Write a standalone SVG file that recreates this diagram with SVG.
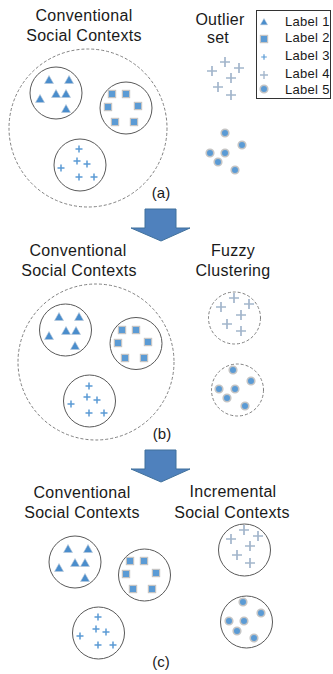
<svg xmlns="http://www.w3.org/2000/svg" xmlns:xlink="http://www.w3.org/1999/xlink" width="333" height="674" viewBox="0 0 333 674">
<style>
text{font-family:"Liberation Sans",Arial,sans-serif;fill:#1a1a1a}
.t{font-size:16px;text-anchor:middle;letter-spacing:0.3px}
.lg{font-size:13px;letter-spacing:0.3px}
.sub{font-size:15px;text-anchor:middle}
.solid{fill:none;stroke:#595959;stroke-width:1}
.dash{fill:none;stroke:#808080;stroke-width:1;stroke-dasharray:3 2}
.arrow{fill:#4F81BD;stroke:#41719C;stroke-width:1}
</style>
<defs>
<polygon id="tri" points="0,-4.5 4.5,3.5 -4.5,3.5" fill="#4a8dcc" stroke="#b8c8d8" stroke-width="0.6"/>
<rect id="sq" x="-3.6" y="-3.6" width="7.2" height="7.2" fill="#5b9bd5" stroke="#c4c4c4" stroke-width="1.2"/>
<circle id="dot" r="3.8" fill="#5b9bd5" stroke="#c4c4c4" stroke-width="1.6"/>
<path id="p3" d="M-3.5,0H3.5M0,-3.5V3.5" stroke="#5b9bd5" stroke-width="1.5" fill="none"/>
<path id="p4" d="M-5,0H5M0,-5V5" stroke="#a3b6cc" stroke-width="1.7" fill="none"/>
</defs>

<g id="connectors">
<path class="arrow" d="M145,209H176V228H190L161,241L131,228H145Z"/>
<path class="arrow" d="M145,450H176V469H190L161,482L131,469H145Z"/>
</g>

<!-- (a) -->
<g id="a-title"><text class="t" x="84" y="21">Conventional</text><text class="t" x="84" y="41">Social Contexts</text></g>
<g id="a-outlier-title"><text class="t" x="220" y="25">Outlier</text><text class="t" x="218" y="43">set</text></g>
<g id="a-social"><circle class="dash" cx="88" cy="128" r="79"/></g>
<g id="a-c1"><circle class="solid" cx="56" cy="93" r="26"/>
<use href="#tri" x="49" y="80"/><use href="#tri" x="69" y="80"/><use href="#tri" x="56" y="94"/><use href="#tri" x="66" y="94"/><use href="#tri" x="40" y="99"/><use href="#tri" x="66" y="109"/></g>
<g id="a-c2"><circle class="solid" cx="126" cy="108" r="26"/>
<use href="#sq" x="112" y="94"/><use href="#sq" x="126" y="94"/><use href="#sq" x="108" y="107"/><use href="#sq" x="138" y="106"/><use href="#sq" x="115" y="122"/><use href="#sq" x="134" y="122"/></g>
<g id="a-c3"><circle class="solid" cx="80" cy="165" r="26"/>
<use href="#p3" x="79" y="149"/><use href="#p3" x="77" y="161"/><use href="#p3" x="87" y="164"/><use href="#p3" x="61" y="168"/><use href="#p3" x="79" y="177"/><use href="#p3" x="94" y="177"/></g>
<g id="a-out4">
<use href="#p4" x="225" y="62"/><use href="#p4" x="212" y="71"/><use href="#p4" x="239" y="68"/><use href="#p4" x="231" y="78"/><use href="#p4" x="218" y="87"/><use href="#p4" x="231" y="95"/></g>
<g id="a-out5">
<use href="#dot" x="225" y="133"/><use href="#dot" x="242" y="145"/><use href="#dot" x="210" y="153"/><use href="#dot" x="225" y="153"/><use href="#dot" x="218" y="162"/><use href="#dot" x="235" y="170"/></g>
<g id="legend"><rect x="256.5" y="10.5" width="74" height="88" fill="#fff" stroke="#333" stroke-width="1"/>
<use href="#tri" x="264" y="22" transform="translate(264 22) scale(0.8) translate(-264 -22)"/>
<use href="#sq" x="264" y="39"/>
<use href="#p3" x="264" y="57" transform="translate(264 57) scale(0.8) translate(-264 -57)"/>
<use href="#p4" x="264" y="75" transform="translate(264 75) scale(0.8) translate(-264 -75)"/>
<use href="#dot" x="264" y="89"/>
<text class="lg" x="285" y="26">Label 1</text><text class="lg" x="285" y="42">Label 2</text><text class="lg" x="285" y="60">Label 3</text><text class="lg" x="285" y="78">Label 4</text><text class="lg" x="285" y="94">Label 5</text></g>
<g id="a-label"><text class="sub" x="161" y="198">(a)</text></g>

<!-- (b) -->
<g id="b-title"><text class="t" x="78" y="256">Conventional</text><text class="t" x="79" y="276">Social Contexts</text></g>
<g id="b-fuzzy-title"><text class="t" x="233" y="256">Fuzzy</text><text class="t" x="233" y="276">Clustering</text></g>
<g id="b-social"><circle class="dash" cx="96" cy="362" r="78"/></g>
<g id="b-c1"><circle class="solid" cx="65.5" cy="330" r="26"/>
<use href="#tri" x="59" y="317"/><use href="#tri" x="79" y="317"/><use href="#tri" x="66" y="331"/><use href="#tri" x="76" y="331"/><use href="#tri" x="49" y="336"/><use href="#tri" x="75" y="346"/></g>
<g id="b-c2"><circle class="solid" cx="136" cy="343.5" r="26"/>
<use href="#sq" x="122" y="330"/><use href="#sq" x="136" y="330"/><use href="#sq" x="118" y="343"/><use href="#sq" x="148" y="342"/><use href="#sq" x="125" y="358"/><use href="#sq" x="144" y="358"/></g>
<g id="b-c3"><circle class="solid" cx="89.5" cy="401" r="26"/>
<use href="#p3" x="89" y="386"/><use href="#p3" x="87" y="397"/><use href="#p3" x="97" y="400"/><use href="#p3" x="71" y="404"/><use href="#p3" x="89" y="413"/><use href="#p3" x="104" y="413"/></g>
<g id="b-f1"><circle class="dash" cx="234.5" cy="318" r="26"/>
<use href="#p4" x="234" y="298"/><use href="#p4" x="221" y="307"/><use href="#p4" x="249" y="304"/><use href="#p4" x="241" y="315"/><use href="#p4" x="227" y="324"/><use href="#p4" x="241" y="331"/></g>
<g id="b-f2"><circle class="dash" cx="237.5" cy="390" r="26"/>
<use href="#dot" x="233" y="370"/><use href="#dot" x="251" y="381"/><use href="#dot" x="219" y="389"/><use href="#dot" x="235" y="389"/><use href="#dot" x="227" y="398"/><use href="#dot" x="245" y="406"/></g>
<g id="b-label"><text class="sub" x="162" y="439">(b)</text></g>

<!-- (c) -->
<g id="c-title"><text class="t" x="82" y="498">Conventional</text><text class="t" x="82" y="518">Social Contexts</text></g>
<g id="c-inc-title"><text class="t" x="233" y="497">Incremental</text><text class="t" x="232" y="518">Social Contexts</text></g>
<g id="c-c1"><circle class="solid" cx="75" cy="562" r="26"/>
<use href="#tri" x="68" y="549"/><use href="#tri" x="88" y="549"/><use href="#tri" x="75" y="563"/><use href="#tri" x="85" y="563"/><use href="#tri" x="59" y="568"/><use href="#tri" x="85" y="578"/></g>
<g id="c-c2"><circle class="solid" cx="144.5" cy="575" r="26"/>
<use href="#sq" x="130" y="561"/><use href="#sq" x="144" y="561"/><use href="#sq" x="126" y="574"/><use href="#sq" x="156" y="573"/><use href="#sq" x="133" y="589"/><use href="#sq" x="152" y="589"/></g>
<g id="c-c3"><circle class="solid" cx="98.5" cy="633" r="26"/>
<use href="#p3" x="98" y="617"/><use href="#p3" x="96" y="629"/><use href="#p3" x="106" y="632"/><use href="#p3" x="80" y="636"/><use href="#p3" x="98" y="645"/><use href="#p3" x="113" y="645"/></g>
<g id="c-i1"><circle class="solid" cx="244.5" cy="550" r="26"/>
<use href="#p4" x="244" y="530"/><use href="#p4" x="231" y="539"/><use href="#p4" x="258" y="536"/><use href="#p4" x="250" y="546"/><use href="#p4" x="237" y="555"/><use href="#p4" x="250" y="563"/></g>
<g id="c-i2"><circle class="solid" cx="246.5" cy="622" r="26"/>
<use href="#dot" x="243" y="602"/><use href="#dot" x="261" y="613"/><use href="#dot" x="229" y="621"/><use href="#dot" x="244" y="621"/><use href="#dot" x="237" y="631"/><use href="#dot" x="254" y="638"/></g>
<g id="c-label"><text class="sub" x="161" y="667">(c)</text></g>
</svg>
